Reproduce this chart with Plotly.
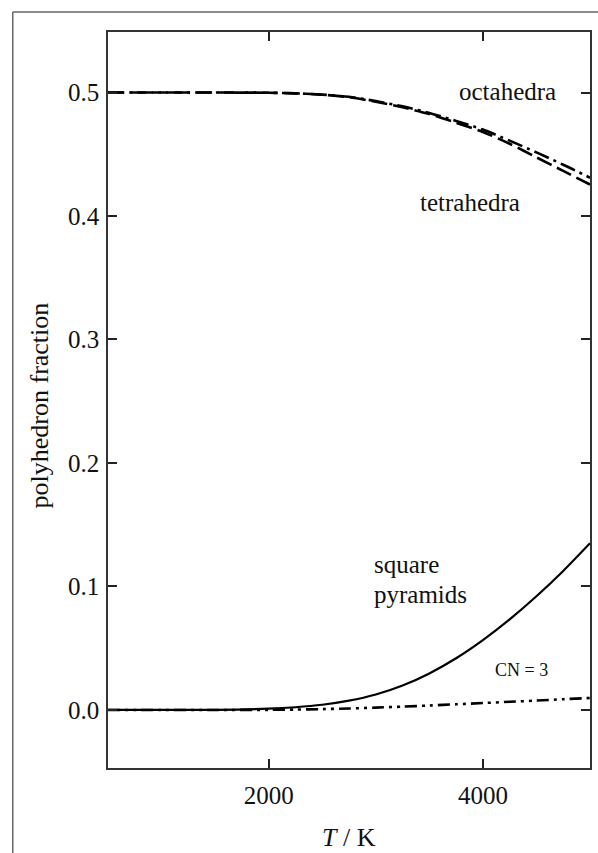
import plotly.graph_objects as go

# Temperature grid (K)
temperature = [500, 1000, 1500, 2000, 2250, 2500, 2750, 3000, 3250, 3500,
               3750, 4000, 4250, 4500, 4750, 5000]

# Polyhedron fractions versus temperature
octahedra = [0.5, 0.5, 0.5, 0.4998, 0.4993, 0.4983, 0.4965, 0.493, 0.4888, 0.4835,
             0.477, 0.470, 0.461, 0.4515, 0.4415, 0.431]
tetrahedra = [0.5, 0.5, 0.5, 0.4998, 0.4993, 0.4982, 0.4962, 0.4925, 0.488, 0.4825,
              0.4755, 0.468, 0.4585, 0.4475, 0.4365, 0.4255]
square_pyramids = [0.0, 0.0, 0.0001, 0.001, 0.0022, 0.0042, 0.0075, 0.0125, 0.0198, 0.0296,
                   0.0419, 0.0566, 0.0734, 0.0921, 0.1126, 0.135]
cn3 = [0.0, 0.0, 0.0, 0.0001, 0.0003, 0.0007, 0.0012, 0.0019, 0.0027, 0.0036,
       0.0046, 0.0056, 0.0066, 0.0076, 0.0087, 0.0097]

x_ticks = [2000, 4000]
y_ticks = [0.0, 0.1, 0.2, 0.3, 0.4, 0.5]

FONT = "Liberation Serif"
INK = "#111111"

fig = go.Figure()
fig.add_trace(go.Scatter(x=temperature, y=octahedra, mode="lines",
                         line=dict(color="black", width=2.6, shape="spline", smoothing=0.8,
                                   dash="16px,5px,3px,5px")))
fig.add_trace(go.Scatter(x=temperature, y=tetrahedra, mode="lines",
                         line=dict(color="black", width=2.6, shape="spline", smoothing=0.8,
                                   dash="16px,6px")))
fig.add_trace(go.Scatter(x=temperature, y=square_pyramids, mode="lines",
                         line=dict(color="black", width=2.2, shape="spline", smoothing=0.8)))
fig.add_trace(go.Scatter(x=temperature, y=cn3, mode="lines",
                         line=dict(color="black", width=2.6, shape="spline", smoothing=0.8,
                                   dash="12px,5px,3px,5px,3px,5px")))

labels = [
    dict(x=4229, y=0.501, text="octahedra", xanchor="center", size=25),
    dict(x=3876, y=0.411, text="tetrahedra", xanchor="center", size=25),
    dict(x=2965, y=0.1174, text="square", xanchor="left", size=25),
    dict(x=2965, y=0.0931, text="pyramids", xanchor="left", size=25),
    dict(x=4359, y=0.0324, text="CN = 3", xanchor="center", size=18),
]
for lab in labels:
    fig.add_annotation(x=lab["x"], y=lab["y"], xref="x", yref="y", text=lab["text"],
                       showarrow=False, xanchor=lab["xanchor"], yanchor="middle",
                       font=dict(family=FONT, size=lab["size"], color=INK))

# Axis titles
fig.add_annotation(x=-0.142, y=0.492, xref="paper", yref="paper",
                   text="polyhedron fraction", textangle=-90, showarrow=False,
                   xanchor="center", yanchor="middle",
                   font=dict(family=FONT, size=26, color=INK))
fig.add_annotation(x=0.5, y=-0.094, xref="paper", yref="paper",
                   text="<i>T</i> / K", showarrow=False,
                   xanchor="center", yanchor="middle",
                   font=dict(family=FONT, size=26, color=INK))

# Outer figure frame (left and top edges)
frame = dict(color="#666666", width=1.5)
fig.add_shape(type="line", xref="paper", yref="paper",
              x0=-0.1976, y0=-0.2, x1=-0.1976, y1=1.0272, line=frame)
fig.add_shape(type="line", xref="paper", yref="paper",
              x0=-0.1976, y0=1.0272, x1=1.05, y1=1.0272, line=frame)

axis_common = dict(showgrid=False, zeroline=False, showline=True, linecolor="#333333",
                   linewidth=1.5, mirror="ticks", ticks="inside", ticklen=9,
                   tickwidth=1.8, tickcolor="#222222",
                   tickfont=dict(family=FONT, size=25, color=INK))

fig.update_xaxes(range=[500, 5000], tickvals=x_ticks, ticklabelstandoff=4, **axis_common)
fig.update_yaxes(range=[-0.047, 0.549], tickvals=y_ticks, tickformat=".1f",
                 ticklabelstandoff=2, **axis_common)

fig.update_layout(width=598, height=853, showlegend=False,
                  paper_bgcolor="white", plot_bgcolor="white",
                  margin=dict(l=108, r=6, t=32, b=85))

fig.write_html("out.html")
